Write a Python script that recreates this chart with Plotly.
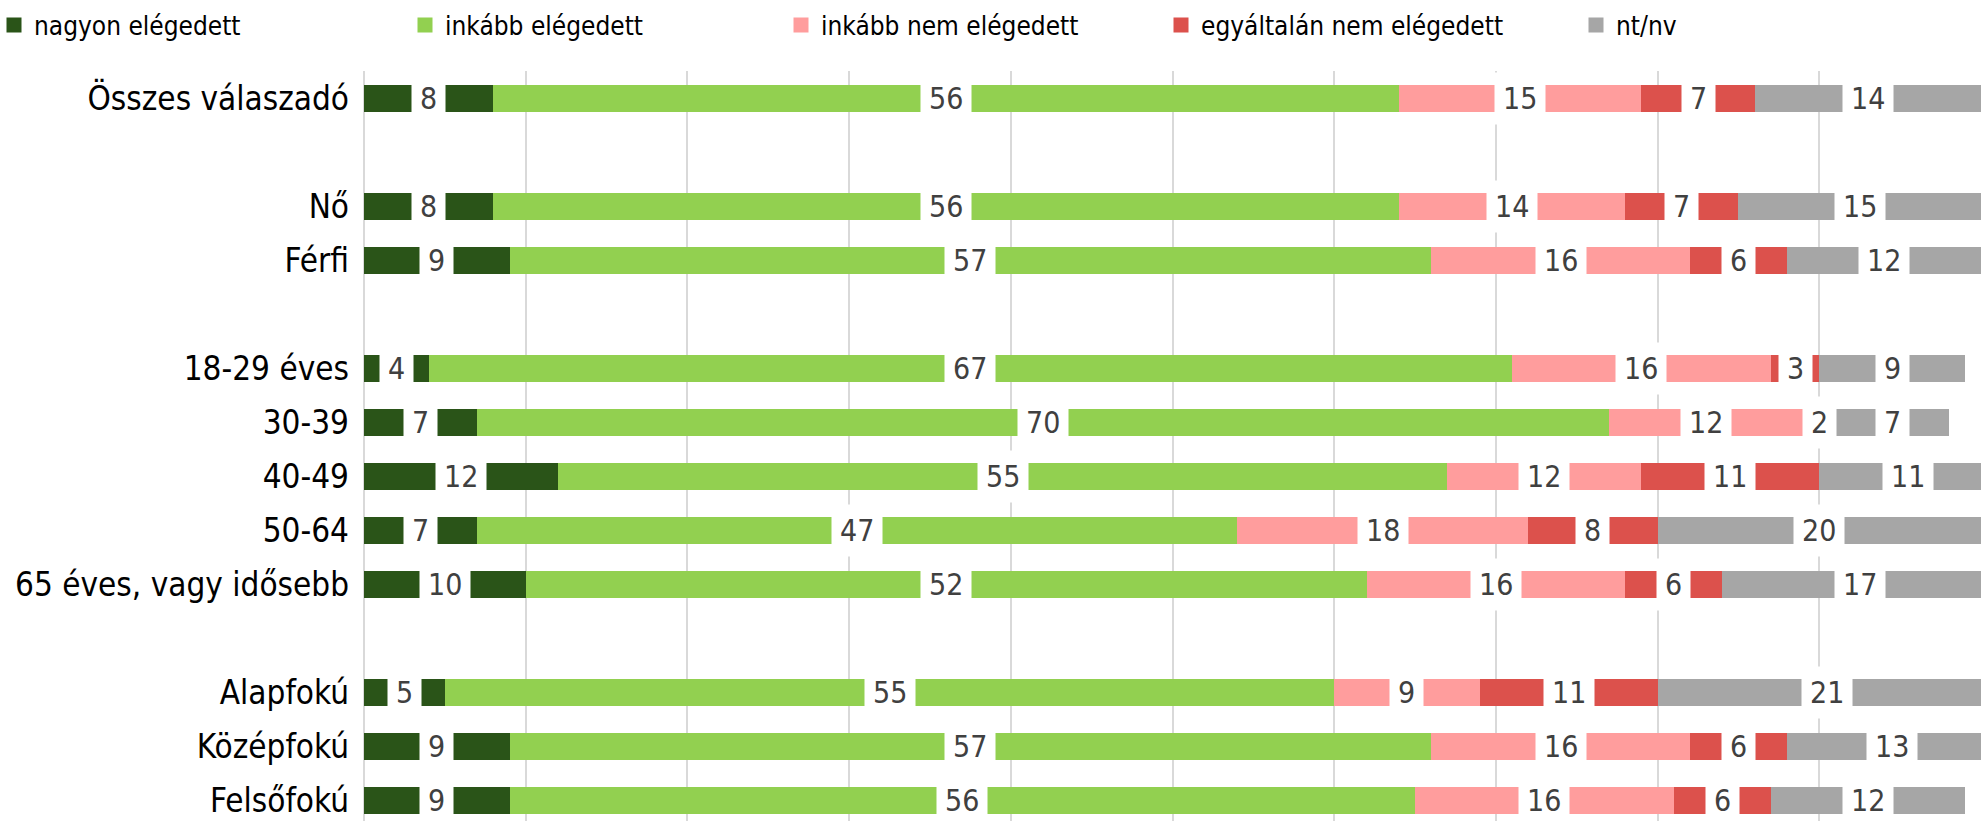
import plotly.graph_objects as go

categories = ["Összes válaszadó", "Nő", "Férfi", "18-29 éves", "30-39", "40-49",
              "50-64", "65 éves, vagy idősebb", "Alapfokú", "Középfokú", "Felsőfokú"]
slots = [0, 2, 3, 5, 6, 7, 8, 9, 11, 12, 13]

series_names = ["nagyon elégedett", "inkább elégedett", "inkább nem elégedett",
                "egyáltalán nem elégedett", "nt/nv"]
nagyon = [8, 8, 9, 4, 7, 12, 7, 10, 5, 9, 9]
inkabb = [56, 56, 57, 67, 70, 55, 47, 52, 55, 57, 56]
inkabb_nem = [15, 14, 16, 16, 12, 12, 18, 16, 9, 16, 16]
egyaltalan = [7, 7, 6, 3, 2, 11, 8, 6, 11, 6, 6]
ntnv = [14, 15, 12, 9, 7, 11, 20, 17, 21, 13, 12]
series_values = [nagyon, inkabb, inkabb_nem, egyaltalan, ntnv]
colors = ["#2A5418", "#92D050", "#FF9D9D", "#DC514C", "#A6A6A6"]

FONT = "DejaVu Sans Condensed, DejaVu Sans, sans-serif"
W, H = 1981, 821
ML, MT = 364, 71
PW, PH = W - ML, H - MT

fig = go.Figure()
for i, (name, vals, col) in enumerate(zip(series_names, series_values, colors)):
    lg = "legend" if i == 0 else f"legend{i+1}"
    fig.add_trace(go.Bar(
        y=slots, x=vals, name=name, orientation="h",
        marker=dict(color=col, line=dict(width=0)),
        width=0.5, showlegend=False, hoverinfo="skip"))
    # legend-only entry with a larger square symbol
    fig.add_trace(go.Scatter(
        x=[None], y=[None], mode="markers", name=name, legend=lg,
        marker=dict(symbol="square", size=15, color=col), hoverinfo="skip"))

# labels with white boxes in the middle of each segment
for r, s in enumerate(slots):
    cum = 0
    for vals in series_values:
        v = vals[r]
        fig.add_annotation(x=cum + v / 2, y=s, text=str(v), showarrow=False,
                           xref="x", yref="y", bgcolor="white", borderpad=8,
                           font=dict(family=FONT, size=30, color="#404040"))
        cum += v

legend_text_x = [34, 445, 821, 1201, 1616]
legend_layouts = {}
for i, tx in enumerate(legend_text_x):
    key = "legend" if i == 0 else f"legend{i+1}"
    legend_layouts[key] = dict(
        xref="paper", yref="paper",
        x=(tx - 40 - ML) / PW, y=(H - 25) / PH,
        xanchor="left", yanchor="middle", orientation="h",
        font=dict(family=FONT, size=26, color="black"),
        bgcolor="rgba(0,0,0,0)", itemwidth=30, tracegroupgap=0)

fig.update_layout(
    width=W, height=H, barmode="stack",
    plot_bgcolor="white", paper_bgcolor="white",
    margin=dict(l=ML, r=0, t=MT, b=0, autoexpand=False),
    showlegend=True,
    bargap=0,
    font=dict(family=FONT, size=28, color="black"),
    xaxis=dict(range=[0, 100], dtick=10, showgrid=True, gridcolor="#D9D9D9",
               gridwidth=1.5, zeroline=True, zerolinecolor="#D9D9D9",
               zerolinewidth=1.5, showticklabels=False, ticks="", automargin=False),
    yaxis=dict(range=[13.38, -0.5], tickvals=slots, ticktext=categories,
               showgrid=False, zeroline=False, ticks="", ticklabelstandoff=14,
               automargin=False,
               tickfont=dict(family=FONT, size=33, color="black")),
    **legend_layouts,
)

fig.write_html("out.html", config={"displayModeBar": False},
               post_script="document.body.style.margin='0';document.body.style.overflow='hidden';")
